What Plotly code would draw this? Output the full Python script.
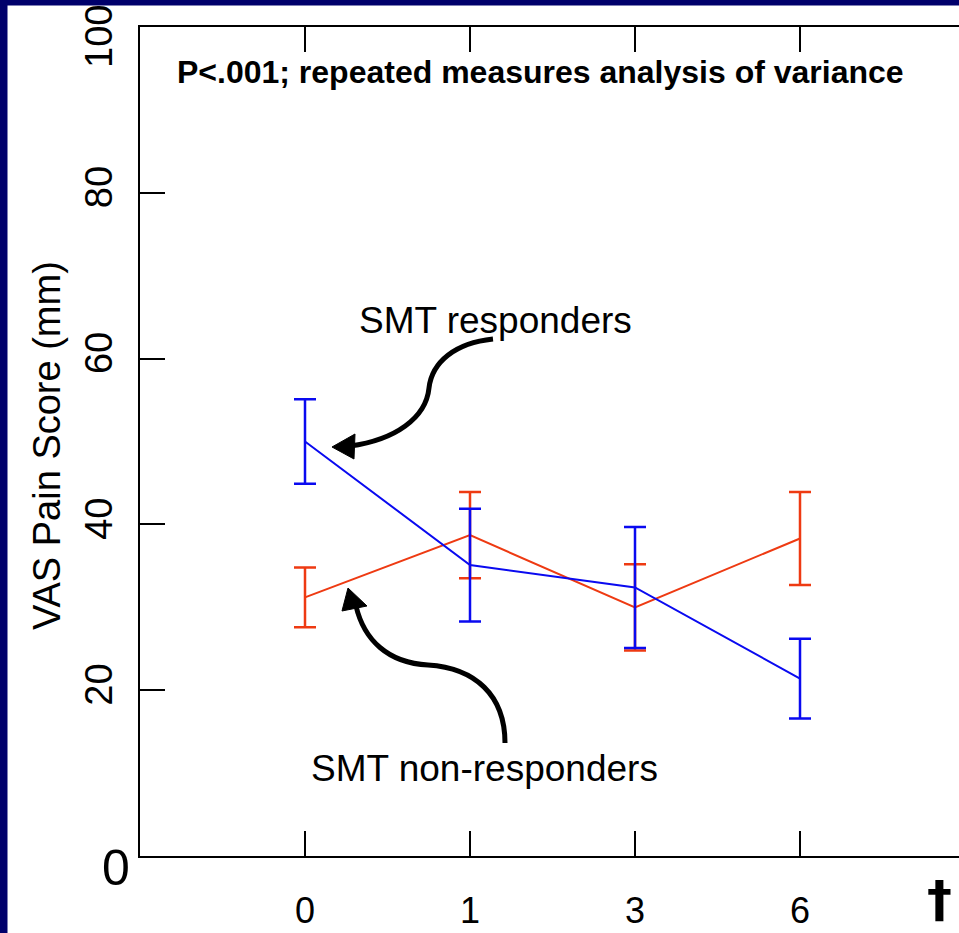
import plotly.graph_objects as go

# ---------------- data ----------------
months = ["0", "1", "3", "6"]
responders_mean = [50.0, 35.1, 32.4, 21.4]
responders_err = [5.1, 6.8, 7.3, 4.8]
nonresponders_mean = [31.2, 38.7, 30.0, 38.3]
nonresponders_err = [3.6, 5.2, 5.2, 5.6]
y_tick_vals = [20, 40, 60, 80]
y_tick_text = ["20", "40", "60", "80"]

BLUE = "#0a0af0"
RED = "#ee3a12"
NAVY = "#00006b"
FONT = "Liberation Sans, Arial, sans-serif"

W, H = 959, 933
L, R, T, B = 140, 0, 27, 77
PW, PH = W - L - R, H - T - B


def px(x):
    return (x - L) / PW


def py(y):
    return (H - B - y) / PH


def path(cmds):
    out = []
    for c in cmds:
        if isinstance(c, str):
            out.append(c)
        else:
            out.append(f"{px(c[0]):.5f},{py(c[1]):.5f}")
    return " ".join(out)


fig = go.Figure()
fig.add_trace(go.Scatter(
    x=months, y=nonresponders_mean, mode="lines",
    line=dict(color=RED, width=2),
    error_y=dict(type="data", array=nonresponders_err, visible=True,
                 color=RED, thickness=2.5, width=11),
    showlegend=False, name="SMT non-responders"))
fig.add_trace(go.Scatter(
    x=months, y=responders_mean, mode="lines",
    line=dict(color=BLUE, width=2),
    error_y=dict(type="data", array=responders_err, visible=True,
                 color=BLUE, thickness=2.5, width=11),
    showlegend=False, name="SMT responders"))

shapes = [
    # navy frame strips
    dict(type="rect", xref="paper", yref="paper", x0=px(0), x1=px(7.5),
         y0=py(0), y1=py(H), fillcolor=NAVY, line=dict(width=0), layer="above"),
    dict(type="rect", xref="paper", yref="paper", x0=px(0), x1=px(W),
         y0=py(0), y1=py(5.5), fillcolor=NAVY, line=dict(width=0), layer="above"),
    # curved arrow: responders
    dict(type="path", xref="paper", yref="paper",
         path=path(["M", (493, 339), "C", (455, 343), (432, 362), (429, 388),
                    "C", (426, 418), (395, 440), (350, 446)]),
         line=dict(color="black", width=5)),
    dict(type="path", xref="paper", yref="paper",
         path=path(["M", (332, 447), "L", (355, 434), "L", (354, 459), "Z"]),
         fillcolor="black", line=dict(color="black", width=1)),
    # curved arrow: non-responders
    dict(type="path", xref="paper", yref="paper",
         path=path(["M", (505, 743), "C", (505, 695), (475, 668), (428, 665),
                    "C", (388, 663), (364, 640), (356, 606)]),
         line=dict(color="black", width=5)),
    dict(type="path", xref="paper", yref="paper",
         path=path(["M", (348, 588), "L", (342, 611), "L", (367, 606), "Z"]),
         fillcolor="black", line=dict(color="black", width=1)),
]

annotations = [
    dict(text="<b>P<.001; repeated measures analysis of variance</b>",
         x=px(175), y=py(72), xanchor="left", yanchor="middle",
         font=dict(size=32, color="black", family=FONT)),
    dict(text="SMT responders", x=px(495), y=py(321), xanchor="center",
         yanchor="middle", font=dict(size=37, color="black", family=FONT)),
    dict(text="SMT non-responders", x=px(484), y=py(768), xanchor="center",
         yanchor="middle", font=dict(size=37, color="black", family=FONT)),
    dict(text="VAS Pain Score (mm)", x=px(47), y=py(446), textangle=-90,
         xanchor="center", yanchor="middle",
         font=dict(size=38, color="black", family=FONT)),
    dict(text="0", x=px(116), y=py(868), xanchor="center", yanchor="middle",
         font=dict(size=50, color="black", family=FONT)),
    dict(text="100", x=px(99), y=py(37), textangle=-90, xanchor="center",
         yanchor="middle", font=dict(size=38, color="black", family=FONT)),
    dict(text="<b>†</b>", x=px(939), y=py(899), xanchor="center",
         yanchor="middle", font=dict(size=50, color="black", family="DejaVu Sans")),
]
for a in annotations:
    a.update(xref="paper", yref="paper", showarrow=False)

fig.update_layout(
    width=W, height=H,
    margin=dict(l=L, r=R, t=T, b=B, pad=0),
    paper_bgcolor="white", plot_bgcolor="white",
    font=dict(family=FONT, color="black"),
    showlegend=False,
    xaxis=dict(type="category", range=[-1, -1 + PW / 165.0],
               showgrid=False, zeroline=False,
               showline=True, linecolor="black", linewidth=2, mirror="ticks",
               ticks="inside", ticklen=25, tickwidth=2, tickcolor="black",
               tickfont=dict(size=36, color="black", family=FONT),
               ticklabelstandoff=22),
    yaxis=dict(range=[0, 100], showgrid=False, zeroline=False,
               showline=True, linecolor="black", linewidth=2,
               ticks="inside", ticklen=25, tickwidth=2, tickcolor="black",
               tickvals=y_tick_vals, ticktext=y_tick_text, tickangle=-90,
               tickfont=dict(size=38, color="black", family=FONT),
               ticklabelstandoff=11),
    yaxis2=dict(range=[0, 100], overlaying="y", side="right", anchor="x",
                showgrid=False, zeroline=False, showline=False,
                ticks="inside", ticklen=19, tickwidth=2, tickcolor="black",
                tickvals=y_tick_vals, showticklabels=False),
    shapes=shapes,
    annotations=annotations,
)

fig.write_html(
    "out.html",
    config={"displayModeBar": False},
    post_script="document.body.style.margin='0';"
                "document.body.style.overflow='hidden';",
)
